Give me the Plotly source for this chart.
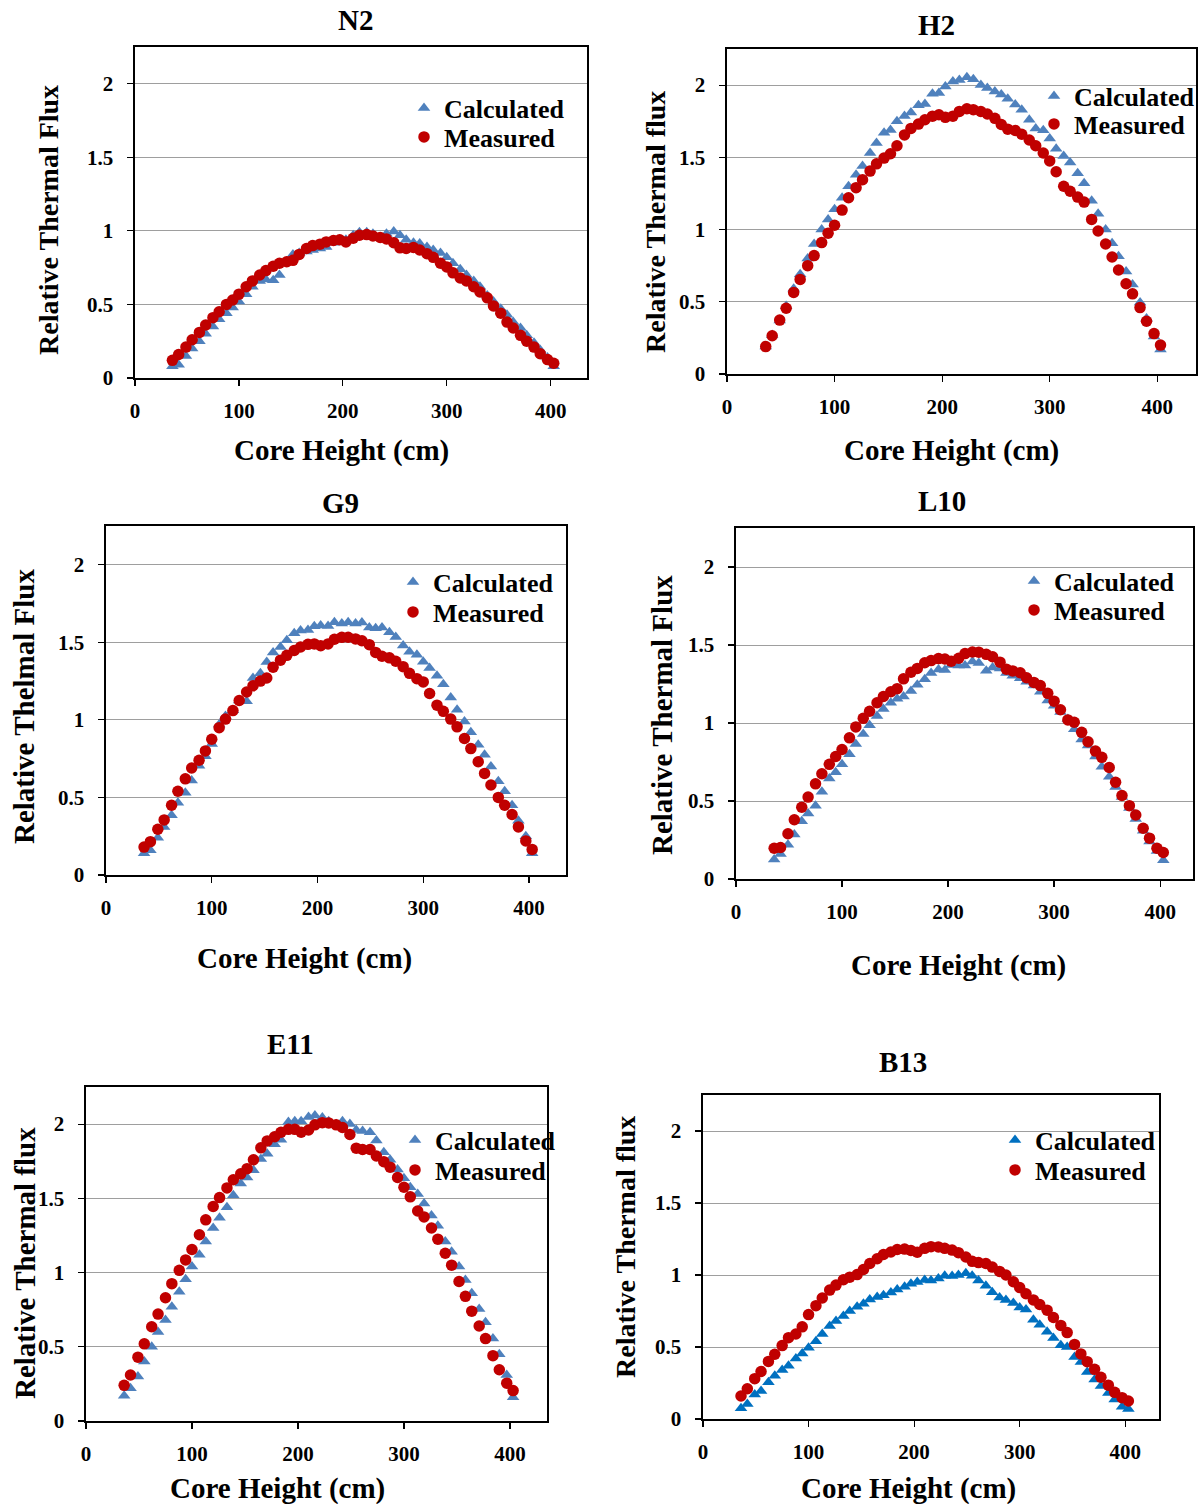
import plotly.graph_objects as go

W, H = 1204, 1504
FONT = "Liberation Serif"

# ---------------- data ----------------
X = [36, 42, 49, 55, 62, 68, 75, 81, 88, 94, 100, 107, 113, 120, 126, 133, 139, 146, 152, 158,
     165, 171, 178, 184, 191, 197, 203, 210, 216, 223, 229, 236, 242, 249, 255, 261, 268, 274, 281, 287,
     294, 300, 306, 313, 319, 326, 332, 339, 345, 352, 358, 364, 371, 377, 384, 390, 397, 403]

X_TICKS = [0, 100, 200, 300, 400]
X_TICK_LABELS = ["0", "100", "200", "300", "400"]
Y_TICKS = [0, 0.5, 1, 1.5, 2]
Y_TICK_LABELS = ["0", "0.5", "1", "1.5", "2"]
SERIES_NAMES = ["Calculated", "Measured"]

N2_CALC = [0.08, 0.09, 0.15, 0.20, 0.25, 0.30, 0.35, 0.40, 0.44, 0.48,
           0.52, 0.57, 0.62, 0.66, 0.67, 0.665, 0.70, 0.79, 0.84, 0.85,
           0.86, 0.87, 0.88, 0.89, 0.92, 0.93, 0.94, 0.97, 0.99, 0.99,
           0.98, 0.95, 0.98, 0.995, 0.97, 0.94, 0.92, 0.915, 0.89, 0.87,
           0.85, 0.82, 0.78, 0.74, 0.70, 0.66, 0.62, 0.56, 0.52, 0.47,
           0.43, 0.38, 0.34, 0.29, 0.24, 0.19, 0.14, 0.08]
N2_MEAS = [0.12, 0.16, 0.21, 0.26, 0.31, 0.36, 0.41, 0.45, 0.50, 0.53,
           0.57, 0.62, 0.66, 0.70, 0.73, 0.76, 0.78, 0.79, 0.80, 0.84,
           0.88, 0.90, 0.91, 0.925, 0.935, 0.94, 0.925, 0.95, 0.97, 0.975,
           0.965, 0.955, 0.945, 0.92, 0.885, 0.88, 0.887, 0.87, 0.845, 0.82,
           0.78, 0.755, 0.715, 0.68, 0.66, 0.62, 0.585, 0.545, 0.49, 0.44,
           0.38, 0.34, 0.29, 0.25, 0.21, 0.165, 0.125, 0.10]

H2_CALC = [0.19, 0.27, 0.37, 0.47, 0.59, 0.69, 0.80, 0.90, 1.00, 1.07,
           1.14, 1.22, 1.30, 1.38, 1.44, 1.53, 1.60, 1.67, 1.69, 1.75,
           1.787, 1.81, 1.86, 1.87, 1.94, 1.945, 1.99, 2.025, 2.035, 2.055,
           2.04, 2.00, 1.98, 1.955, 1.935, 1.905, 1.865, 1.83, 1.76, 1.70,
           1.687, 1.63, 1.56, 1.51, 1.465, 1.39, 1.32, 1.20, 1.11, 1.00,
           0.905, 0.815, 0.71, 0.62, 0.495, 0.385, 0.26, 0.17]
H2_MEAS = [0.19, 0.265, 0.373, 0.455, 0.565, 0.655, 0.75, 0.82, 0.91, 0.975,
           1.03, 1.135, 1.22, 1.29, 1.345, 1.405, 1.455, 1.495, 1.525, 1.58,
           1.655, 1.70, 1.73, 1.76, 1.785, 1.795, 1.777, 1.785, 1.818, 1.836,
           1.83, 1.817, 1.80, 1.77, 1.727, 1.695, 1.686, 1.66, 1.62, 1.58,
           1.53, 1.475, 1.40, 1.30, 1.265, 1.225, 1.19, 1.07, 0.99, 0.90,
           0.81, 0.72, 0.625, 0.555, 0.46, 0.365, 0.28, 0.20]

G9_CALC = [0.14, 0.16, 0.24, 0.31, 0.385, 0.465, 0.53, 0.61, 0.705, 0.765,
           0.845, 0.97, 1.025, 1.062, 1.125, 1.12, 1.27, 1.30, 1.373, 1.435,
           1.47, 1.513, 1.558, 1.577, 1.58, 1.603, 1.609, 1.605, 1.63, 1.622,
           1.63, 1.622, 1.628, 1.595, 1.59, 1.595, 1.565, 1.535, 1.48, 1.44,
           1.42, 1.375, 1.335, 1.285, 1.23, 1.145, 1.065, 0.99, 0.92, 0.84,
           0.775, 0.70, 0.605, 0.54, 0.45, 0.35, 0.25, 0.14]
G9_MEAS = [0.18, 0.215, 0.295, 0.355, 0.45, 0.54, 0.62, 0.69, 0.74, 0.80,
           0.875, 0.95, 1.005, 1.06, 1.125, 1.18, 1.22, 1.25, 1.27, 1.34,
           1.385, 1.416, 1.447, 1.47, 1.487, 1.49, 1.478, 1.49, 1.52, 1.532,
           1.533, 1.522, 1.51, 1.485, 1.435, 1.41, 1.40, 1.378, 1.343, 1.30,
           1.266, 1.245, 1.17, 1.095, 1.055, 1.005, 0.955, 0.88, 0.815, 0.73,
           0.655, 0.58, 0.50, 0.45, 0.39, 0.31, 0.22, 0.165]

L10_CALC = [0.125, 0.16, 0.22, 0.285, 0.37, 0.42, 0.47, 0.56, 0.645, 0.685,
            0.735, 0.80, 0.865, 0.93, 0.985, 1.045, 1.09, 1.13, 1.155, 1.17,
            1.205, 1.245, 1.28, 1.32, 1.343, 1.34, 1.372, 1.368, 1.368, 1.395,
            1.385, 1.335, 1.355, 1.35, 1.32, 1.303, 1.287, 1.265, 1.24, 1.20,
            1.145, 1.11, 1.07, 1.025, 0.96, 0.895, 0.855, 0.785, 0.72, 0.655,
            0.59, 0.525, 0.455, 0.385, 0.31, 0.24, 0.18, 0.12]
L10_MEAS = [0.197, 0.202, 0.29, 0.38, 0.46, 0.525, 0.61, 0.675, 0.735, 0.785,
            0.83, 0.905, 0.975, 1.03, 1.075, 1.13, 1.17, 1.20, 1.22, 1.283,
            1.325, 1.35, 1.386, 1.40, 1.413, 1.41, 1.396, 1.415, 1.445, 1.455,
            1.454, 1.44, 1.425, 1.39, 1.345, 1.334, 1.322, 1.29, 1.26, 1.24,
            1.19, 1.14, 1.085, 1.02, 1.005, 0.94, 0.88, 0.82, 0.78, 0.715,
            0.62, 0.535, 0.47, 0.41, 0.325, 0.262, 0.197, 0.17]

E11_CALC = [0.17, 0.22, 0.30, 0.40, 0.50, 0.60, 0.68, 0.77, 0.87, 0.955,
            1.04, 1.12, 1.21, 1.30, 1.37, 1.44, 1.52, 1.60, 1.64, 1.69,
            1.765, 1.80, 1.865, 1.895, 2.015, 2.02, 2.02, 2.048, 2.058, 2.045,
            2.02, 1.999, 2.02, 2.0, 1.96, 1.953, 1.945, 1.89, 1.81, 1.76,
            1.695, 1.635, 1.575, 1.53, 1.465, 1.385, 1.315, 1.21, 1.14, 1.04,
            0.95, 0.86, 0.755, 0.665, 0.555, 0.45, 0.31, 0.16]
E11_MEAS = [0.24, 0.31, 0.43, 0.52, 0.635, 0.72, 0.83, 0.925, 1.015, 1.085,
            1.155, 1.255, 1.355, 1.445, 1.505, 1.57, 1.625, 1.665, 1.70, 1.76,
            1.84, 1.887, 1.915, 1.945, 1.965, 1.965, 1.945, 1.96, 1.995, 2.01,
            2.008, 1.995, 1.977, 1.93, 1.838, 1.829, 1.829, 1.785, 1.747, 1.71,
            1.64, 1.575, 1.51, 1.415, 1.375, 1.30, 1.225, 1.13, 1.05, 0.94,
            0.84, 0.74, 0.64, 0.555, 0.44, 0.345, 0.255, 0.205]

B13_CALC = [0.075, 0.105, 0.17, 0.195, 0.255, 0.30, 0.34, 0.37, 0.42, 0.455,
            0.495, 0.54, 0.59, 0.645, 0.68, 0.715, 0.75, 0.78, 0.80, 0.83,
            0.847, 0.86, 0.878, 0.90, 0.918, 0.94, 0.952, 0.966, 0.962, 0.975,
            0.995, 0.993, 1.0, 1.012, 0.995, 0.962, 0.925, 0.88, 0.843, 0.826,
            0.806, 0.774, 0.76, 0.69, 0.655, 0.606, 0.562, 0.513, 0.50, 0.43,
            0.395, 0.326, 0.275, 0.23, 0.18, 0.135, 0.085, 0.07]
B13_MEAS = [0.16, 0.21, 0.28, 0.33, 0.40, 0.45, 0.51, 0.565, 0.59, 0.64,
            0.725, 0.787, 0.84, 0.895, 0.93, 0.967, 0.985, 1.003, 1.038, 1.08,
            1.113, 1.142, 1.16, 1.177, 1.18, 1.17, 1.158, 1.185, 1.197, 1.195,
            1.185, 1.173, 1.155, 1.125, 1.095, 1.086, 1.08, 1.055, 1.025, 1.0,
            0.953, 0.913, 0.87, 0.827, 0.795, 0.756, 0.705, 0.65, 0.60, 0.518,
            0.452, 0.398, 0.345, 0.29, 0.235, 0.185, 0.148, 0.125]

# ---------------- styling / layout ----------------
BLUE = "#4F81BD"
BLUE2 = "#0070C0"
RED = "#C00000"

panels = [
    dict(title="N2", calc=N2_CALC, meas=N2_MEAS, box=(135, 587, 47, 378), xmax=435,
         t=(355, 20), xt=(342, 451), yt=(48, 220), ytitle="Relative Thermal Flux", ysz=28,
         leg=(404, 108, 137), cc=BLUE),
    dict(title="H2", calc=H2_CALC, meas=H2_MEAS, box=(727, 1196, 49, 374), xmax=436,
         t=(936, 25), xt=(951, 451), yt=(655, 222), ytitle="Relative Thermal flux", ysz=28,
         leg=(1034, 96, 124), cc=BLUE),
    dict(title="G9", calc=G9_CALC, meas=G9_MEAS, box=(106, 566, 526, 875), xmax=435,
         t=(340, 503), xt=(304, 958), yt=(24, 707), ytitle="Relative Thelmal Flux", ysz=29,
         leg=(393, 582, 612), cc=BLUE),
    dict(title="L10", calc=L10_CALC, meas=L10_MEAS, box=(736, 1193, 528, 879), xmax=431,
         t=(942, 501), xt=(958, 965), yt=(662, 715), ytitle="Relative Thermal Flux", ysz=29,
         leg=(1014, 581, 610), cc=BLUE),
    dict(title="E11", calc=E11_CALC, meas=E11_MEAS, box=(86, 547, 1087, 1421), xmax=435,
         t=(290, 1044), xt=(277, 1488), yt=(25, 1263), ytitle="Relative Thermal flux", ysz=29,
         leg=(395, 1140, 1170), cc=BLUE),
    dict(title="B13", calc=B13_CALC, meas=B13_MEAS, box=(703, 1159, 1095, 1419), xmax=432,
         t=(903, 1062), xt=(908, 1488), yt=(625, 1247), ytitle="Relative Thermal flux", ysz=28,
         leg=(995, 1140, 1170), cc=BLUE2),
]

fig = go.Figure()
layout = dict(
    width=W, height=H, margin=dict(l=0, r=0, t=0, b=0, autoexpand=False),
    paper_bgcolor="white", plot_bgcolor="white", showlegend=True,
    font=dict(family=FONT, color="black"),
    annotations=[],
)

tickfont = dict(family=FONT, size=21, color="black", weight="bold")
legfont = dict(family=FONT, size=26, color="black", weight="bold")

for i, p in enumerate(panels):
    n = i + 1
    xa = "x" if n == 1 else f"x{n}"
    ya = "y" if n == 1 else f"y{n}"
    x0, x1, y0, y1 = p["box"]
    lg_c = f"legend{2 * i + 1}" if i > 0 else "legend"
    lg_m = f"legend{2 * i + 2}"

    fig.add_trace(go.Scatter(
        x=X, y=p["calc"], mode="markers", name=SERIES_NAMES[0], xaxis=xa, yaxis=ya,
        marker=dict(symbol="triangle-up", size=11, color=p["cc"]), legend=lg_c,
        showlegend=True, cliponaxis=False))
    fig.add_trace(go.Scatter(
        x=X, y=p["meas"], mode="markers", name=SERIES_NAMES[1], xaxis=xa, yaxis=ya,
        marker=dict(symbol="circle", size=11.5, color=RED), legend=lg_m,
        showlegend=True, cliponaxis=False))

    layout["xaxis" if n == 1 else f"xaxis{n}"] = dict(
        domain=[x0 / W, x1 / W], anchor=ya, range=[0, p["xmax"]],
        tickvals=X_TICKS, ticktext=X_TICK_LABELS, ticks="outside", ticklen=6, tickwidth=1.2,
        tickcolor="black", showline=True, linecolor="black", linewidth=1.6, mirror=True,
        showgrid=False, zeroline=False, tickfont=tickfont, ticklabelstandoff=7, fixedrange=True)
    layout["yaxis" if n == 1 else f"yaxis{n}"] = dict(
        domain=[1 - y1 / H, 1 - y0 / H], anchor=xa, range=[0, 2.25],
        tickvals=Y_TICKS, ticktext=Y_TICK_LABELS, ticks="outside", ticklen=6, tickwidth=1.2,
        tickcolor="black", showline=True, linecolor="black", linewidth=1.6, mirror=True,
        showgrid=True, gridcolor="#9E9E9E", gridwidth=1, zeroline=False,
        tickfont=tickfont, ticklabelstandoff=10, fixedrange=True)

    lx, ly1, ly2 = p["leg"]
    for lg, ly in ((lg_c, ly1), (lg_m, ly2)):
        layout[lg] = dict(x=lx / W, y=1 - ly / H, xanchor="left", yanchor="middle",
                          xref="paper", yref="paper", bgcolor="rgba(0,0,0,0)",
                          borderwidth=0, font=legfont, itemwidth=30, visible=True)

    layout["annotations"] += [
        dict(text=p["title"], x=p["t"][0] / W, y=1 - p["t"][1] / H, xref="paper", yref="paper",
             showarrow=False, xanchor="center", yanchor="middle",
             font=dict(family=FONT, size=29, color="black", weight="bold")),
        dict(text="Core Height (cm)", x=p["xt"][0] / W, y=1 - p["xt"][1] / H, xref="paper",
             yref="paper", showarrow=False, xanchor="center", yanchor="middle",
             font=dict(family=FONT, size=29, color="black", weight="bold")),
        dict(text=p["ytitle"], x=p["yt"][0] / W, y=1 - p["yt"][1] / H, xref="paper",
             yref="paper", showarrow=False, xanchor="center", yanchor="middle", textangle=-90,
             font=dict(family=FONT, size=p["ysz"], color="black", weight="bold")),
    ]

fig.update_layout(**layout)
fig.write_html("out.html", config={"displayModeBar": False, "staticPlot": True},
               post_script="document.body.style.margin='0';")
